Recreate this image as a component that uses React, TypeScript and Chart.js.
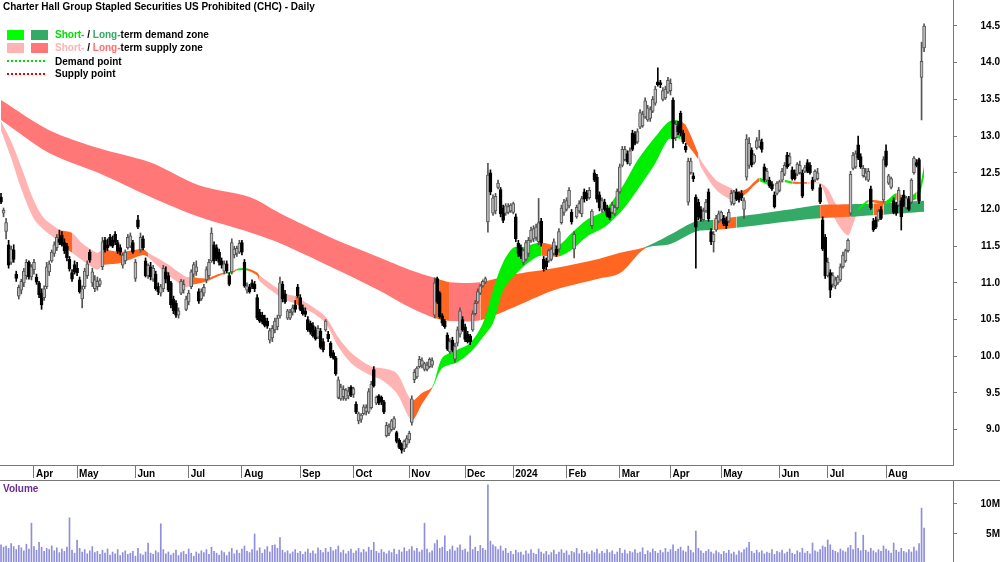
import React, { useEffect, useRef } from 'react';
import { Chart, registerables } from 'chart.js';

Chart.register(...registerables);

const FONT = "'Liberation Sans', Arial, Helvetica, sans-serif";

// ---- x axis (trading-day index) ----
const monthTickIdx = [13, 30, 53, 74, 95, 118, 139, 161, 183, 202, 223, 244, 264, 284, 307, 326, 349];
const monthTickLabels = ['Apr', 'May', 'Jun', 'Jul', 'Aug', 'Sep', 'Oct', 'Nov', 'Dec', '2024', 'Feb', 'Mar', 'Apr', 'May', 'Jun', 'Jul', 'Aug'];
const priceTicks = [9.0, 9.5, 10.0, 10.5, 11.0, 11.5, 12.0, 12.5, 13.0, 13.5, 14.0, 14.5];
const volumeTicks = [5, 10];

// ---- daily OHLC ----
const open = [
  12.17, 11.95, 11.70, 11.52, 11.28, 11.45, 11.12, 10.82, 10.90, 11.00,
  11.10, 11.28, 11.08, 11.18, 11.08, 11.00, 10.86, 10.80, 10.95, 11.15,
  11.30, 11.40, 11.48, 11.60, 11.65, 11.55, 11.50, 11.32, 11.14, 11.25,
  11.20, 11.04, 10.78, 10.95, 11.10, 11.42, 11.00, 10.92, 10.95, 10.98,
  11.22, 11.58, 11.52, 11.62, 11.58, 11.66, 11.55, 11.48, 11.24, 11.30,
  11.48, 11.50, 11.55, 11.06, 11.86, 11.45, 11.60, 11.30, 11.10, 11.22,
  11.05, 11.12, 10.95, 10.86, 10.92, 11.15, 11.10, 11.00, 10.78, 10.72,
  10.56, 10.86, 10.90, 10.64, 10.74, 10.95, 11.12, 11.15, 10.88, 10.78,
  10.86, 11.04, 11.10, 11.30, 11.52, 11.48, 11.42, 11.30, 11.16, 11.26,
  11.10, 11.15, 11.38, 11.40, 11.42, 11.55, 11.28, 10.90, 10.94, 11.00,
  10.98, 10.80, 10.60, 10.56, 10.52, 10.48, 10.22, 10.25, 10.36, 10.40,
  10.55, 10.98, 10.85, 10.52, 10.52, 10.60, 10.70, 10.94, 10.80, 10.66,
  10.62, 10.50, 10.45, 10.42, 10.36, 10.26, 10.34, 10.20, 10.36, 10.30,
  10.18, 10.05, 9.98, 9.44, 9.42, 9.45, 9.42, 9.46, 9.58, 9.48,
  9.35, 9.12, 9.14, 9.22, 9.25, 9.24, 9.30, 9.82, 9.36, 9.46,
  9.44, 9.38, 8.92, 8.95, 9.00, 9.02, 8.96, 8.86, 8.80, 8.74,
  8.80, 8.86, 9.10, 9.68, 9.72, 9.86, 9.88, 9.82, 9.82, 9.86,
  9.88, 10.56, 11.06, 10.86, 10.55, 10.48, 10.29, 10.06, 10.22, 9.96,
  10.18, 10.30, 10.50, 10.40, 10.30, 10.28, 10.36, 10.58, 10.74, 10.86,
  10.96, 11.01, 11.83, 12.50, 11.95, 11.98, 12.30, 12.27, 12.02, 11.95,
  11.96, 11.98, 11.96, 11.90, 11.54, 11.48, 11.28, 11.32, 11.40, 11.58,
  11.60, 11.62, 11.56, 11.84, 11.32, 11.30, 11.30, 11.32, 11.40, 11.46,
  11.46, 11.82, 11.96, 12.00, 12.05, 11.96, 11.46, 11.90, 11.98, 11.94,
  12.24, 12.22, 12.16, 11.78, 12.50, 12.44, 12.20, 12.00, 12.10, 12.02,
  11.98, 11.96, 11.94, 12.02, 12.24, 12.60, 12.68, 12.76, 12.62, 13.04,
  13.02, 12.92, 13.12, 13.14, 13.26, 13.22, 13.24, 13.34, 13.45, 13.74,
  13.73, 13.50, 13.52, 13.60, 13.62, 13.49, 12.98, 13.14, 13.31, 13.04,
  12.86, 12.10, 12.50, 12.46, 12.17, 12.10, 12.00, 11.86, 11.98, 12.24,
  11.70, 11.56, 11.72, 11.84, 11.86, 11.88, 11.86, 11.84, 12.10, 12.08,
  12.24, 12.20, 12.22, 12.00, 12.44, 12.60, 12.81, 12.64, 12.84, 12.86,
  12.92, 12.58, 12.40, 12.40, 12.34, 12.20, 12.22, 12.26, 12.40, 12.48,
  12.74, 12.62, 12.54, 12.50, 12.48, 12.50, 12.50, 12.52, 12.64, 12.60,
  12.40, 12.40, 12.42, 12.30, 11.86, 11.62, 11.10, 11.14, 10.98, 10.96,
  11.00, 11.04, 11.22, 11.30, 11.44, 11.95, 12.56, 12.58, 12.88, 12.72,
  12.46, 12.44, 12.40, 12.28, 11.84, 11.86, 11.86, 12.00, 12.13, 12.80,
  12.36, 12.30, 12.12, 12.06, 12.06, 12.12, 12.20, 12.02, 12.14, 12.10,
  12.50, 12.64, 12.68, 13.80, 14.20,
];
const high = [
  12.22, 12.02, 11.88, 11.58, 11.50, 11.52, 11.16, 10.97, 11.05, 11.20,
  11.32, 11.30, 11.25, 11.32, 11.12, 11.02, 10.92, 10.96, 11.28, 11.30,
  11.45, 11.56, 11.66, 11.72, 11.70, 11.60, 11.54, 11.36, 11.18, 11.30,
  11.28, 11.08, 10.96, 11.20, 11.30, 11.45, 11.20, 11.10, 11.08, 11.06,
  11.62, 11.62, 11.60, 11.66, 11.64, 11.70, 11.58, 11.52, 11.40, 11.45,
  11.66, 11.68, 11.58, 11.32, 11.92, 11.68, 11.64, 11.34, 11.26, 11.28,
  11.24, 11.16, 11.00, 10.98, 11.24, 11.22, 11.14, 11.02, 10.82, 10.76,
  10.66, 11.05, 11.04, 10.82, 10.90, 11.18, 11.28, 11.30, 10.92, 10.92,
  10.98, 11.22, 11.32, 11.75, 11.56, 11.52, 11.46, 11.34, 11.30, 11.30,
  11.14, 11.60, 11.50, 11.50, 11.58, 11.58, 11.32, 11.00, 10.98, 11.04,
  11.02, 10.84, 10.64, 10.60, 10.56, 10.52, 10.38, 10.42, 10.52, 10.56,
  11.08, 11.02, 10.90, 10.64, 10.64, 10.70, 10.76, 10.98, 10.84, 10.70,
  10.66, 10.54, 10.48, 10.46, 10.40, 10.42, 10.38, 10.24, 10.50, 10.34,
  10.20, 10.08, 10.00, 9.72, 9.62, 9.60, 9.56, 9.58, 9.60, 9.58,
  9.38, 9.24, 9.22, 9.34, 9.34, 9.56, 9.66, 9.86, 9.46, 9.48,
  9.46, 9.40, 9.10, 9.08, 9.14, 9.18, 8.98, 8.88, 8.82, 8.86,
  8.92, 8.98, 9.46, 9.82, 9.86, 10.00, 9.98, 9.92, 9.92, 9.98,
  9.98, 11.07, 11.08, 10.88, 10.58, 10.50, 10.32, 10.24, 10.26, 10.18,
  10.40, 10.66, 10.54, 10.44, 10.34, 10.30, 10.62, 10.76, 10.92, 10.98,
  11.04, 11.08, 12.63, 12.54, 12.20, 12.22, 12.40, 12.30, 12.06, 12.08,
  12.08, 12.08, 12.10, 11.94, 11.58, 11.52, 11.46, 11.58, 11.62, 11.76,
  11.78, 11.80, 12.15, 11.88, 11.36, 11.34, 11.46, 11.48, 11.60, 11.50,
  11.74, 12.06, 12.14, 12.16, 12.30, 12.00, 11.70, 12.06, 12.12, 12.18,
  12.28, 12.26, 12.30, 12.00, 12.54, 12.48, 12.24, 12.16, 12.14, 12.06,
  12.02, 12.10, 12.06, 12.28, 12.62, 12.86, 12.86, 12.80, 12.84, 13.08,
  13.06, 13.10, 13.36, 13.34, 13.52, 13.42, 13.40, 13.54, 13.68, 13.93,
  13.76, 13.66, 13.68, 13.80, 13.78, 13.52, 13.20, 13.20, 13.34, 13.08,
  12.90, 12.70, 12.70, 12.50, 12.20, 12.14, 12.04, 12.02, 12.14, 12.28,
  11.74, 11.70, 11.92, 11.98, 11.98, 11.92, 11.90, 12.00, 12.26, 12.26,
  12.28, 12.24, 12.26, 12.16, 13.02, 12.98, 12.84, 12.76, 12.98, 13.08,
  12.96, 12.62, 12.56, 12.44, 12.38, 12.24, 12.38, 12.40, 12.56, 12.64,
  12.78, 12.77, 12.58, 12.54, 12.64, 12.66, 12.54, 12.60, 12.68, 12.64,
  12.44, 12.54, 12.56, 12.34, 11.90, 11.66, 11.34, 11.18, 11.14, 11.08,
  11.10, 11.26, 11.42, 11.46, 11.60, 12.52, 12.78, 12.80, 13.00, 12.76,
  12.60, 12.56, 12.56, 12.32, 11.88, 11.90, 12.00, 12.04, 12.72, 12.88,
  12.48, 12.44, 12.16, 12.10, 12.30, 12.16, 12.26, 12.18, 12.18, 12.42,
  12.72, 12.68, 12.70, 14.28, 14.53,
];
const low = [
  12.08, 11.90, 11.60, 11.20, 11.25, 11.28, 11.02, 10.78, 10.85, 10.95,
  11.05, 11.05, 11.04, 11.12, 10.98, 10.80, 10.64, 10.76, 10.92, 11.10,
  11.28, 11.36, 11.44, 11.52, 11.50, 11.40, 11.30, 11.16, 11.02, 11.12,
  11.10, 10.86, 10.66, 10.92, 11.06, 11.28, 10.95, 10.88, 10.90, 10.95,
  11.18, 11.42, 11.44, 11.50, 11.48, 11.52, 11.40, 11.38, 11.20, 11.26,
  11.46, 11.48, 11.40, 11.02, 11.74, 11.42, 11.45, 11.08, 11.06, 11.04,
  11.02, 10.90, 10.84, 10.82, 10.88, 11.00, 10.88, 10.66, 10.58, 10.53,
  10.52, 10.84, 10.86, 10.62, 10.70, 10.92, 11.08, 11.10, 10.72, 10.76,
  10.82, 11.00, 11.06, 11.28, 11.26, 11.30, 11.24, 11.20, 11.12, 11.14,
  10.96, 11.12, 11.34, 11.36, 11.40, 11.38, 10.94, 10.86, 10.86, 10.92,
  10.88, 10.50, 10.46, 10.44, 10.40, 10.38, 10.18, 10.20, 10.32, 10.36,
  10.52, 10.74, 10.72, 10.50, 10.50, 10.56, 10.60, 10.80, 10.62, 10.56,
  10.54, 10.34, 10.30, 10.26, 10.22, 10.24, 10.10, 10.06, 10.34, 10.20,
  9.98, 9.96, 9.74, 9.42, 9.40, 9.40, 9.40, 9.42, 9.45, 9.44,
  9.22, 9.08, 9.10, 9.20, 9.20, 9.22, 9.28, 9.58, 9.34, 9.34,
  9.34, 9.22, 8.90, 8.92, 8.98, 9.00, 8.82, 8.74, 8.68, 8.70,
  8.76, 8.82, 9.06, 9.64, 9.70, 9.84, 9.84, 9.80, 9.80, 9.84,
  9.85, 10.52, 10.72, 10.52, 10.42, 10.38, 10.08, 10.04, 10.06, 9.92,
  10.14, 10.26, 10.34, 10.20, 10.18, 10.16, 10.34, 10.56, 10.72, 10.84,
  10.94, 10.99, 11.69, 12.20, 11.92, 11.94, 12.28, 11.90, 11.82, 11.92,
  11.94, 11.96, 11.94, 11.56, 11.36, 11.33, 11.25, 11.30, 11.36, 11.55,
  11.56, 11.58, 11.52, 11.50, 11.16, 11.18, 11.28, 11.30, 11.38, 11.36,
  11.42, 11.80, 11.92, 11.98, 12.02, 11.80, 11.34, 11.88, 11.95, 11.90,
  12.10, 12.12, 12.14, 11.74, 12.38, 12.10, 11.98, 11.96, 11.98, 11.90,
  11.86, 11.94, 11.92, 12.00, 12.22, 12.58, 12.66, 12.62, 12.60, 12.80,
  12.88, 12.90, 13.10, 13.12, 13.24, 13.20, 13.20, 13.32, 13.42, 13.68,
  13.66, 13.48, 13.50, 13.58, 13.56, 12.84, 12.94, 13.02, 13.00, 12.90,
  12.78, 12.06, 12.48, 12.38, 11.20, 11.86, 11.84, 11.84, 11.96, 11.84,
  11.52, 11.42, 11.70, 11.82, 11.84, 11.78, 11.74, 11.82, 12.06, 12.06,
  12.12, 12.10, 12.12, 11.88, 12.40, 12.56, 12.58, 12.62, 12.82, 12.84,
  12.78, 12.38, 12.38, 12.30, 12.26, 12.02, 12.20, 12.24, 12.38, 12.46,
  12.56, 12.60, 12.40, 12.40, 12.46, 12.48, 12.16, 12.50, 12.50, 12.48,
  12.26, 12.38, 12.40, 12.08, 11.44, 11.06, 11.08, 10.80, 10.94, 10.92,
  10.98, 11.02, 11.20, 11.28, 11.42, 11.92, 12.54, 12.56, 12.68, 12.56,
  12.44, 12.40, 12.38, 12.00, 11.70, 11.74, 11.84, 11.86, 12.10, 12.58,
  12.34, 12.28, 11.94, 11.92, 12.04, 11.72, 12.04, 12.00, 11.98, 12.08,
  12.48, 12.58, 12.08, 13.22, 14.15,
];
const close = [
  12.10, 11.99, 11.82, 11.24, 11.46, 11.32, 11.06, 10.94, 11.02, 11.16,
  11.28, 11.08, 11.22, 11.28, 11.01, 10.84, 10.70, 10.92, 11.22, 11.26,
  11.42, 11.52, 11.62, 11.55, 11.52, 11.44, 11.34, 11.19, 11.05, 11.15,
  11.14, 10.88, 10.92, 11.16, 11.26, 11.31, 11.15, 11.04, 11.02, 11.03,
  11.56, 11.45, 11.48, 11.52, 11.50, 11.55, 11.43, 11.42, 11.38, 11.42,
  11.62, 11.64, 11.42, 11.28, 11.76, 11.62, 11.48, 11.10, 11.24, 11.08,
  11.20, 10.92, 10.88, 10.95, 11.20, 11.05, 10.90, 10.70, 10.62, 10.56,
  10.62, 11.02, 10.98, 10.78, 10.86, 11.15, 11.25, 11.22, 10.75, 10.88,
  10.94, 11.18, 11.28, 11.68, 11.30, 11.33, 11.28, 11.24, 11.26, 11.16,
  10.98, 11.55, 11.46, 11.47, 11.54, 11.42, 10.96, 10.96, 10.88, 10.95,
  10.92, 10.52, 10.48, 10.47, 10.42, 10.41, 10.35, 10.38, 10.48, 10.52,
  11.00, 10.78, 10.74, 10.62, 10.60, 10.66, 10.64, 10.82, 10.64, 10.58,
  10.57, 10.36, 10.33, 10.28, 10.24, 10.38, 10.12, 10.09, 10.48, 10.24,
  10.00, 9.98, 9.76, 9.68, 9.58, 9.55, 9.54, 9.52, 9.47, 9.56,
  9.24, 9.22, 9.20, 9.31, 9.30, 9.52, 9.62, 9.60, 9.44, 9.36,
  9.38, 9.24, 9.06, 9.04, 9.12, 9.15, 8.84, 8.76, 8.72, 8.84,
  8.88, 8.95, 9.42, 9.78, 9.84, 9.96, 9.94, 9.90, 9.88, 9.96,
  9.94, 11.00, 10.74, 10.54, 10.45, 10.40, 10.10, 10.20, 10.08, 10.14,
  10.36, 10.62, 10.36, 10.23, 10.20, 10.20, 10.58, 10.72, 10.88, 10.96,
  11.02, 11.06, 12.47, 12.24, 12.16, 12.18, 12.36, 11.94, 11.85, 12.05,
  12.04, 12.06, 12.08, 11.60, 11.40, 11.36, 11.44, 11.55, 11.58, 11.72,
  11.74, 11.76, 11.82, 11.54, 11.19, 11.22, 11.44, 11.46, 11.56, 11.38,
  11.70, 12.02, 12.10, 12.12, 12.26, 11.83, 11.66, 12.03, 12.08, 12.15,
  12.14, 12.15, 12.26, 11.98, 12.40, 12.14, 12.02, 12.12, 12.00, 11.92,
  11.89, 12.06, 12.03, 12.25, 12.58, 12.82, 12.82, 12.65, 12.80, 12.82,
  12.90, 13.06, 13.32, 13.30, 13.48, 13.38, 13.36, 13.50, 13.64, 13.70,
  13.70, 13.62, 13.64, 13.76, 13.72, 12.96, 13.16, 13.06, 13.04, 12.92,
  12.81, 12.66, 12.66, 12.42, 11.76, 11.90, 11.88, 11.98, 12.10, 11.87,
  11.56, 11.66, 11.88, 11.94, 11.96, 11.80, 11.78, 11.96, 12.22, 12.24,
  12.14, 12.13, 12.16, 12.12, 12.96, 12.90, 12.61, 12.74, 12.94, 12.95,
  12.82, 12.40, 12.52, 12.32, 12.28, 12.04, 12.36, 12.38, 12.52, 12.60,
  12.58, 12.72, 12.42, 12.42, 12.62, 12.60, 12.18, 12.57, 12.52, 12.50,
  12.28, 12.52, 12.50, 12.10, 11.46, 11.10, 11.28, 10.90, 11.10, 11.04,
  11.08, 11.22, 11.38, 11.44, 11.58, 12.48, 12.74, 12.76, 12.70, 12.58,
  12.56, 12.50, 12.52, 12.02, 11.72, 11.76, 11.98, 11.88, 12.68, 12.60,
  12.46, 12.42, 11.96, 11.95, 12.26, 11.90, 12.06, 12.16, 12.00, 12.40,
  12.70, 12.60, 12.12, 14.02, 14.50,
];

// ---- daily volume (millions) ----
const volume = [
  3.2, 2.8, 3.0, 2.6, 3.4, 2.9, 2.4, 3.1, 2.7, 2.2, 3.3, 2.5, 6.8, 2.9, 2.3, 3.6, 2.8, 2.1, 2.6, 2.4,
  3.0, 2.2, 2.7, 1.9, 2.5, 2.1, 2.8, 7.7, 2.3, 1.8, 4.0, 2.6, 2.0, 2.4, 1.7, 2.2, 2.9, 1.9, 2.1, 1.6,
  2.3, 1.8, 2.5, 1.5, 2.0, 1.7, 2.4, 1.4, 1.9, 2.2, 1.6, 1.8, 2.1, 1.3, 2.6, 1.7, 1.5, 2.0, 3.5, 1.8,
  1.6, 2.2, 1.9, 6.7, 2.4, 1.7, 2.0, 1.5, 1.8, 2.3, 1.4, 1.9, 2.1, 1.6, 2.5, 1.8, 1.3, 2.0, 1.7, 2.2,
  1.9, 2.4, 1.6, 2.8, 2.1, 1.8, 1.5, 2.2, 1.9, 1.4, 2.0, 2.6, 1.7, 2.3, 1.8, 2.5, 3.0, 2.1, 1.9, 2.4,
  5.0, 2.2, 2.7, 1.8, 2.4, 2.9, 2.0, 3.1, 3.2, 2.6, 4.4, 2.3, 1.9, 2.2, 1.7, 2.0, 2.4, 1.8, 2.1, 1.6,
  2.0, 2.5, 1.8, 2.2, 1.7, 2.7, 2.3, 1.9, 2.6, 2.0, 2.8, 2.2, 2.4, 3.0, 1.9, 2.3, 1.7, 2.1, 2.5, 1.8,
  2.2, 2.6, 1.9, 2.4, 2.0, 2.8, 2.3, 3.6, 2.1, 1.8, 2.4, 2.0, 1.7, 2.2, 1.9, 2.5, 1.6, 2.3, 2.0, 2.7,
  2.1, 2.4, 2.9, 2.2, 2.6, 2.0, 2.3, 6.8, 2.5, 1.9, 2.2, 3.4, 4.0, 2.6, 2.8, 4.7, 2.1, 2.4, 3.0, 2.2,
  2.7, 3.2, 2.3, 2.5, 2.0, 4.7, 2.4, 2.8, 2.1, 3.1, 2.6, 2.3, 13.2, 3.8, 3.2, 2.9, 2.4, 3.0, 2.2, 2.6,
  1.8, 2.1, 1.6, 2.3, 1.9, 2.0, 1.5, 2.2, 1.7, 2.4, 1.8, 1.6, 2.5, 2.0, 1.7, 2.1, 1.5, 1.9, 2.3, 1.6,
  2.0, 2.4, 1.8, 2.2, 1.5, 2.1, 1.9, 2.6, 1.7, 2.3, 1.8, 2.0, 1.6, 2.2, 1.9, 2.5, 1.7, 2.1, 1.8, 2.4,
  1.9, 2.2, 1.6, 2.0, 2.6, 1.8, 2.3, 1.7, 2.1, 1.9, 2.4, 1.8, 2.0, 2.7, 1.6, 2.2, 1.9, 2.5, 2.1, 1.8,
  2.3, 1.9, 2.6, 2.0, 2.4, 3.2, 2.1, 2.5, 2.8, 2.2, 2.0, 3.0, 2.3, 1.9, 5.5, 2.6, 2.2, 1.8, 2.1, 2.4,
  2.0, 1.7, 2.2, 1.9, 1.6, 2.1, 1.8, 2.3, 1.7, 2.0, 1.5, 2.2, 1.9, 2.4, 2.7, 3.6, 2.1, 1.8, 2.3, 1.9,
  2.2, 1.7, 2.0, 1.8, 2.4, 1.6, 2.1, 1.9, 2.3, 1.7, 2.0, 2.5, 1.8, 1.6, 2.2, 1.9, 2.6, 1.8, 2.1, 1.7,
  3.5, 2.2, 2.0, 2.4, 3.0, 2.8, 4.0, 3.2, 2.3, 2.1, 1.9, 2.5, 2.2, 2.0, 2.7, 3.1, 2.4, 5.3, 2.6, 2.2,
  4.8, 2.3, 2.0, 2.6, 2.2, 1.9, 2.4, 2.1, 3.0, 2.5, 2.2, 1.8, 3.5, 2.3, 2.0, 2.6, 2.1, 1.9, 2.4, 2.0,
  2.8, 2.2, 3.4, 9.3, 6.0,
];

// ---- short-term zone (fast band) knots ----
const shortIdx = [0, 4, 8, 13, 17, 21, 23, 28, 32, 38, 40, 47, 56, 58, 65, 73, 75, 81, 85, 88, 91, 93, 97, 101, 102, 112, 116, 118, 123, 128, 133, 138, 143, 147, 150, 156, 162, 166, 170, 174, 180, 185, 190, 194, 198, 202, 206, 211, 213, 220, 225, 231, 238, 245, 251, 258, 263, 266, 268, 270, 275, 276, 282, 288, 290, 294, 299, 302, 305, 309, 312, 318, 323, 326, 330, 334, 336, 338, 340, 342, 349, 353, 358, 361, 362, 364];
const shortUpper = [13.20, 12.93, 12.58, 12.12, 11.88, 11.77, 11.72, 11.68, 11.54, 11.41, 11.45, 11.42, 11.46, 11.41, 11.27, 11.08, 11.08, 11.06, 11.11, 11.14, 11.15, 11.19, 11.20, 11.14, 11.10, 10.86, 10.82, 10.78, 10.67, 10.54, 10.26, 10.05, 9.92, 9.85, 9.84, 9.77, 9.40, 9.50, 9.58, 9.98, 10.09, 10.18, 10.45, 10.90, 11.28, 11.48, 11.49, 11.54, 11.55, 11.52, 11.68, 11.86, 11.99, 12.31, 12.67, 12.99, 13.19, 13.22, 13.20, 13.15, 12.76, 12.67, 12.40, 12.29, 12.24, 12.28, 12.43, 12.38, 12.35, 12.40, 12.38, 12.37, 12.36, 12.28, 12.03, 11.92, 11.95, 12.02, 12.08, 12.13, 12.12, 12.22, 12.16, 12.24, 12.27, 12.60];
const shortLower = [13.08, 12.70, 12.28, 11.87, 11.72, 11.61, 11.54, 11.41, 11.31, 11.18, 11.24, 11.27, 11.38, 11.35, 11.13, 10.94, 10.97, 11.02, 11.08, 11.12, 11.13, 11.17, 11.17, 11.10, 11.02, 10.77, 10.72, 10.68, 10.59, 10.45, 10.13, 9.91, 9.79, 9.72, 9.68, 9.50, 9.13, 9.35, 9.56, 9.84, 9.92, 10.05, 10.26, 10.45, 10.90, 11.08, 11.22, 11.35, 11.37, 11.36, 11.45, 11.63, 11.76, 11.99, 12.27, 12.63, 12.95, 12.97, 12.96, 12.91, 12.68, 12.58, 12.27, 12.13, 12.13, 12.22, 12.38, 12.34, 12.32, 12.37, 12.35, 12.35, 12.34, 12.10, 11.80, 11.65, 11.80, 11.98, 12.04, 12.10, 12.07, 12.13, 12.12, 12.14, 12.16, 12.45];
// P = short-term supply, G = short-term demand, O = mixed
const shortZone = ['P', 'P', 'P', 'P', 'P', 'P', 'O', 'P', 'P', 'P', 'O', 'O', 'O', 'P', 'P', 'P', 'O', 'O', 'O', 'G', 'O', 'G', 'O', 'O', 'P', 'P', 'O', 'P', 'P', 'P', 'P', 'P', 'P', 'P', 'P', 'P', 'O', 'O', 'G', 'G', 'G', 'G', 'G', 'G', 'G', 'G', 'G', 'G', 'O', 'G', 'G', 'G', 'G', 'G', 'G', 'G', 'G', 'G', 'O', 'O', 'P', 'P', 'P', 'P', 'O', 'O', 'G', 'O', 'P', 'G', 'O', 'P', 'P', 'P', 'P', 'P', 'P', 'G', 'G', 'O', 'G', 'O', 'G', 'O', 'G', 'G'];

// ---- long-term zone (slow band) knots ----
const longIdx = [0, 19, 39, 59, 78, 98, 110, 130, 149, 161, 171, 177, 189, 201, 218, 236, 244, 254, 264, 274, 281, 290, 311, 323, 335, 344, 348, 364];
const longUpper = [13.49, 13.08, 12.83, 12.64, 12.33, 12.17, 11.95, 11.62, 11.35, 11.18, 11.07, 11.01, 11.01, 11.11, 11.20, 11.33, 11.41, 11.49, 11.66, 11.84, 11.86, 11.90, 12.00, 12.06, 12.07, 12.08, 12.09, 12.12];
const longLower = [13.22, 12.77, 12.49, 12.17, 11.90, 11.69, 11.54, 11.22, 10.90, 10.67, 10.52, 10.48, 10.49, 10.65, 10.90, 11.06, 11.13, 11.47, 11.53, 11.70, 11.72, 11.75, 11.84, 11.88, 11.90, 11.92, 11.93, 11.97];
// R = long-term supply, D = long-term demand, O = mixed
const longZone = ['R', 'R', 'R', 'R', 'R', 'R', 'R', 'R', 'R', 'R', 'O', 'R', 'O', 'O', 'O', 'O', 'O', 'D', 'D', 'D', 'O', 'D', 'D', 'O', 'D', 'O', 'D', 'D'];

const ZONE_COLORS: Record<string, string> = {
  P: '#ffb3b3',
  R: '#ff7777',
  O: '#ff6622',
  G: '#00ee00',
  D: '#33aa66',
};
const CLEAR = 'rgba(0,0,0,0)';

const X_MIN = -0.4;
const X_MAX = 375.4;
const PRICE_MIN = 8.519;
const PRICE_MAX = 14.854;
const VOL_MIN = 0.33;
const VOL_MAX = 13.83;

const tickFont = { family: FONT, size: 10, weight: 'bold' as const };

function bandPair(
  idx: number[],
  upper: number[],
  lower: number[],
  zones: string[],
  pick: (z: string) => string,
  order: number
): any[] {
  return [
    {
      type: 'line',
      data: idx.map((x, k) => ({ x, y: upper[k] })),
      borderColor: CLEAR,
      borderWidth: 0,
      pointRadius: 0,
      fill: false,
      tension: 0.3,
      order: order + 1,
    },
    {
      type: 'line',
      data: idx.map((x, k) => ({ x, y: lower[k] })),
      borderColor: CLEAR,
      borderWidth: 0,
      pointRadius: 0,
      backgroundColor: CLEAR,
      fill: '-1',
      tension: 0.3,
      order,
      segment: {
        backgroundColor: (ctx: any) => pick(zones[ctx.p0DataIndex]),
      },
    },
  ];
}

function PriceChart() {
  const ref = useRef<HTMLCanvasElement | null>(null);
  useEffect(() => {
    if (!ref.current) return;
    const days = close.map((_, i) => i);
    const isUp = close.map((c, i) => c >= open[i]);
    const datasets: any[] = [
      ...bandPair(shortIdx, shortUpper, shortLower, shortZone, (z) => (z === 'G' ? CLEAR : ZONE_COLORS[z]), 8),
      ...bandPair(longIdx, longUpper, longLower, longZone, (z) => ZONE_COLORS[z], 6),
      ...bandPair(shortIdx, shortUpper, shortLower, shortZone, (z) => (z === 'G' ? ZONE_COLORS.G : CLEAR), 4),
      {
        type: 'bar',
        data: days.map((i) => ({ x: i, y: [low[i], high[i]] })),
        backgroundColor: isUp.map((u) => (u ? '#555555' : '#000000')),
        borderWidth: 0,
        barThickness: 1,
        grouped: false,
        order: 1,
      },
      {
        type: 'bar',
        data: days.map((i) => ({ x: i, y: [open[i], close[i]] })),
        backgroundColor: isUp.map((u) => (u ? '#bdbdbd' : '#000000')),
        borderColor: isUp.map((u) => (u ? '#555555' : '#000000')),
        borderWidth: 1,
        borderSkipped: false,
        barThickness: 3,
        grouped: false,
        order: 0,
      },
    ];
    const chart = new Chart(ref.current, {
      type: 'bar',
      data: { datasets },
      options: {
        animation: false,
        responsive: false,
        devicePixelRatio: 1,
        events: [],
        layout: { padding: 0 },
        plugins: {
          legend: { display: false },
          tooltip: { enabled: false },
          filler: { drawTime: 'beforeDatasetsDraw' },
        } as any,
        scales: {
          x: {
            type: 'linear',
            min: X_MIN,
            max: X_MAX,
            offset: false,
            afterBuildTicks: (s: any) => {
              s.ticks = monthTickIdx.map((v) => ({ value: v }));
            },
            afterFit: (s: any) => {
              s.height = 15;
              s.paddingLeft = 0;
              s.paddingRight = 0;
            },
            ticks: {
              autoSkip: false,
              maxRotation: 0,
              minRotation: 0,
              align: 'start',
              labelOffset: 2,
              padding: -10,
              color: '#000',
              font: tickFont,
              callback: (_v: any, i: number) => monthTickLabels[i],
            },
            grid: { drawOnChartArea: false, drawTicks: true, tickLength: 13, color: '#777', offset: false },
            border: { display: true, color: '#777' },
          },
          y: {
            type: 'linear',
            position: 'right',
            min: PRICE_MIN,
            max: PRICE_MAX,
            afterBuildTicks: (s: any) => {
              s.ticks = priceTicks.map((v) => ({ value: v }));
            },
            afterFit: (s: any) => {
              s.width = 47;
              s.paddingTop = 0;
              s.paddingBottom = 0;
            },
            ticks: {
              padding: 21,
              crossAlign: 'far',
              color: '#000',
              font: tickFont,
              callback: (v: any) => Number(v).toFixed(1),
            },
            grid: { drawOnChartArea: false, tickLength: 4, color: '#777' },
            border: { display: true, color: '#777' },
          },
        } as any,
      },
    });
    return () => chart.destroy();
  }, []);
  return <canvas ref={ref} width={1000} height={480} style={{ display: 'block' }} />;
}

function VolumeChart() {
  const ref = useRef<HTMLCanvasElement | null>(null);
  useEffect(() => {
    if (!ref.current) return;
    const chart = new Chart(ref.current, {
      type: 'bar',
      data: {
        datasets: [
          {
            data: volume.map((v, i) => ({ x: i, y: v })),
            backgroundColor: '#8e8edb',
            borderWidth: 0,
            barThickness: 1,
            grouped: false,
          } as any,
        ],
      },
      options: {
        animation: false,
        responsive: false,
        devicePixelRatio: 1,
        events: [],
        layout: { padding: 0 },
        plugins: { legend: { display: false }, tooltip: { enabled: false } },
        scales: {
          x: { type: 'linear', min: X_MIN, max: X_MAX, offset: false, display: false },
          y: {
            type: 'linear',
            position: 'right',
            min: VOL_MIN,
            max: VOL_MAX,
            afterBuildTicks: (s: any) => {
              s.ticks = volumeTicks.map((v) => ({ value: v }));
            },
            afterFit: (s: any) => {
              s.width = 47;
              s.paddingTop = 0;
              s.paddingBottom = 0;
            },
            ticks: {
              padding: 21,
              crossAlign: 'far',
              color: '#000',
              font: tickFont,
              callback: (v: any) => `${v}M`,
            },
            grid: { drawOnChartArea: false, tickLength: 4, color: '#777' },
            border: { display: true, color: '#777' },
          },
        } as any,
      },
    });
    return () => chart.destroy();
  }, []);
  return <canvas ref={ref} width={1000} height={81} style={{ display: 'block' }} />;
}

const textBase: React.CSSProperties = {
  position: 'absolute',
  fontFamily: FONT,
  fontSize: 10,
  fontWeight: 'bold',
  lineHeight: '12px',
  whiteSpace: 'nowrap',
  color: '#000',
};

function Swatch({ left, top, color }: { left: number; top: number; color: string }) {
  return <div style={{ position: 'absolute', left, top, width: 17, height: 10, background: color }} />;
}

function Dots({ top, color }: { top: number; color: string }) {
  return (
    <div
      style={{
        position: 'absolute',
        left: 7,
        top,
        width: 38,
        height: 2,
        background: `repeating-linear-gradient(90deg, ${color} 0px, ${color} 2px, transparent 2px, transparent 4px)`,
      }}
    />
  );
}

export default function App() {
  return (
    <div style={{ position: 'absolute', left: 0, top: 0, width: 1000, height: 562, background: '#fff', overflow: 'hidden' }}>
      <div style={{ position: 'absolute', left: 0, top: 0 }}>
        <PriceChart />
      </div>
      <div style={{ position: 'absolute', left: 0, top: 480, width: 1000, height: 1, background: '#777' }} />
      <div style={{ position: 'absolute', left: 0, top: 481 }}>
        <VolumeChart />
      </div>

      <div style={{ ...textBase, left: 3, top: 1 }}>Charter Hall Group Stapled Securities US Prohibited (CHC) - Daily</div>

      <Swatch left={7} top={30} color="#00ff00" />
      <Swatch left={31} top={30} color="#33aa66" />
      <Swatch left={7} top={43} color="#ffb3b3" />
      <Swatch left={31} top={43} color="#ff7777" />
      <Dots top={60} color="#00dd00" />
      <Dots top={73} color="#ee0000" />

      <div style={{ ...textBase, left: 55, top: 29 }}>
        <span style={{ color: '#00dd00' }}>Short-</span> / <span style={{ color: '#33aa66' }}>Long-</span>term demand zone
      </div>
      <div style={{ ...textBase, left: 55, top: 42 }}>
        <span style={{ color: '#ffb3b3' }}>Short-</span> / <span style={{ color: '#ff6f6f' }}>Long-</span>term supply zone
      </div>
      <div style={{ ...textBase, left: 55, top: 56 }}>Demand point</div>
      <div style={{ ...textBase, left: 55, top: 68 }}>Supply point</div>

      <div style={{ ...textBase, left: 3, top: 483, color: '#6a2c91' }}>Volume</div>
    </div>
  );
}
